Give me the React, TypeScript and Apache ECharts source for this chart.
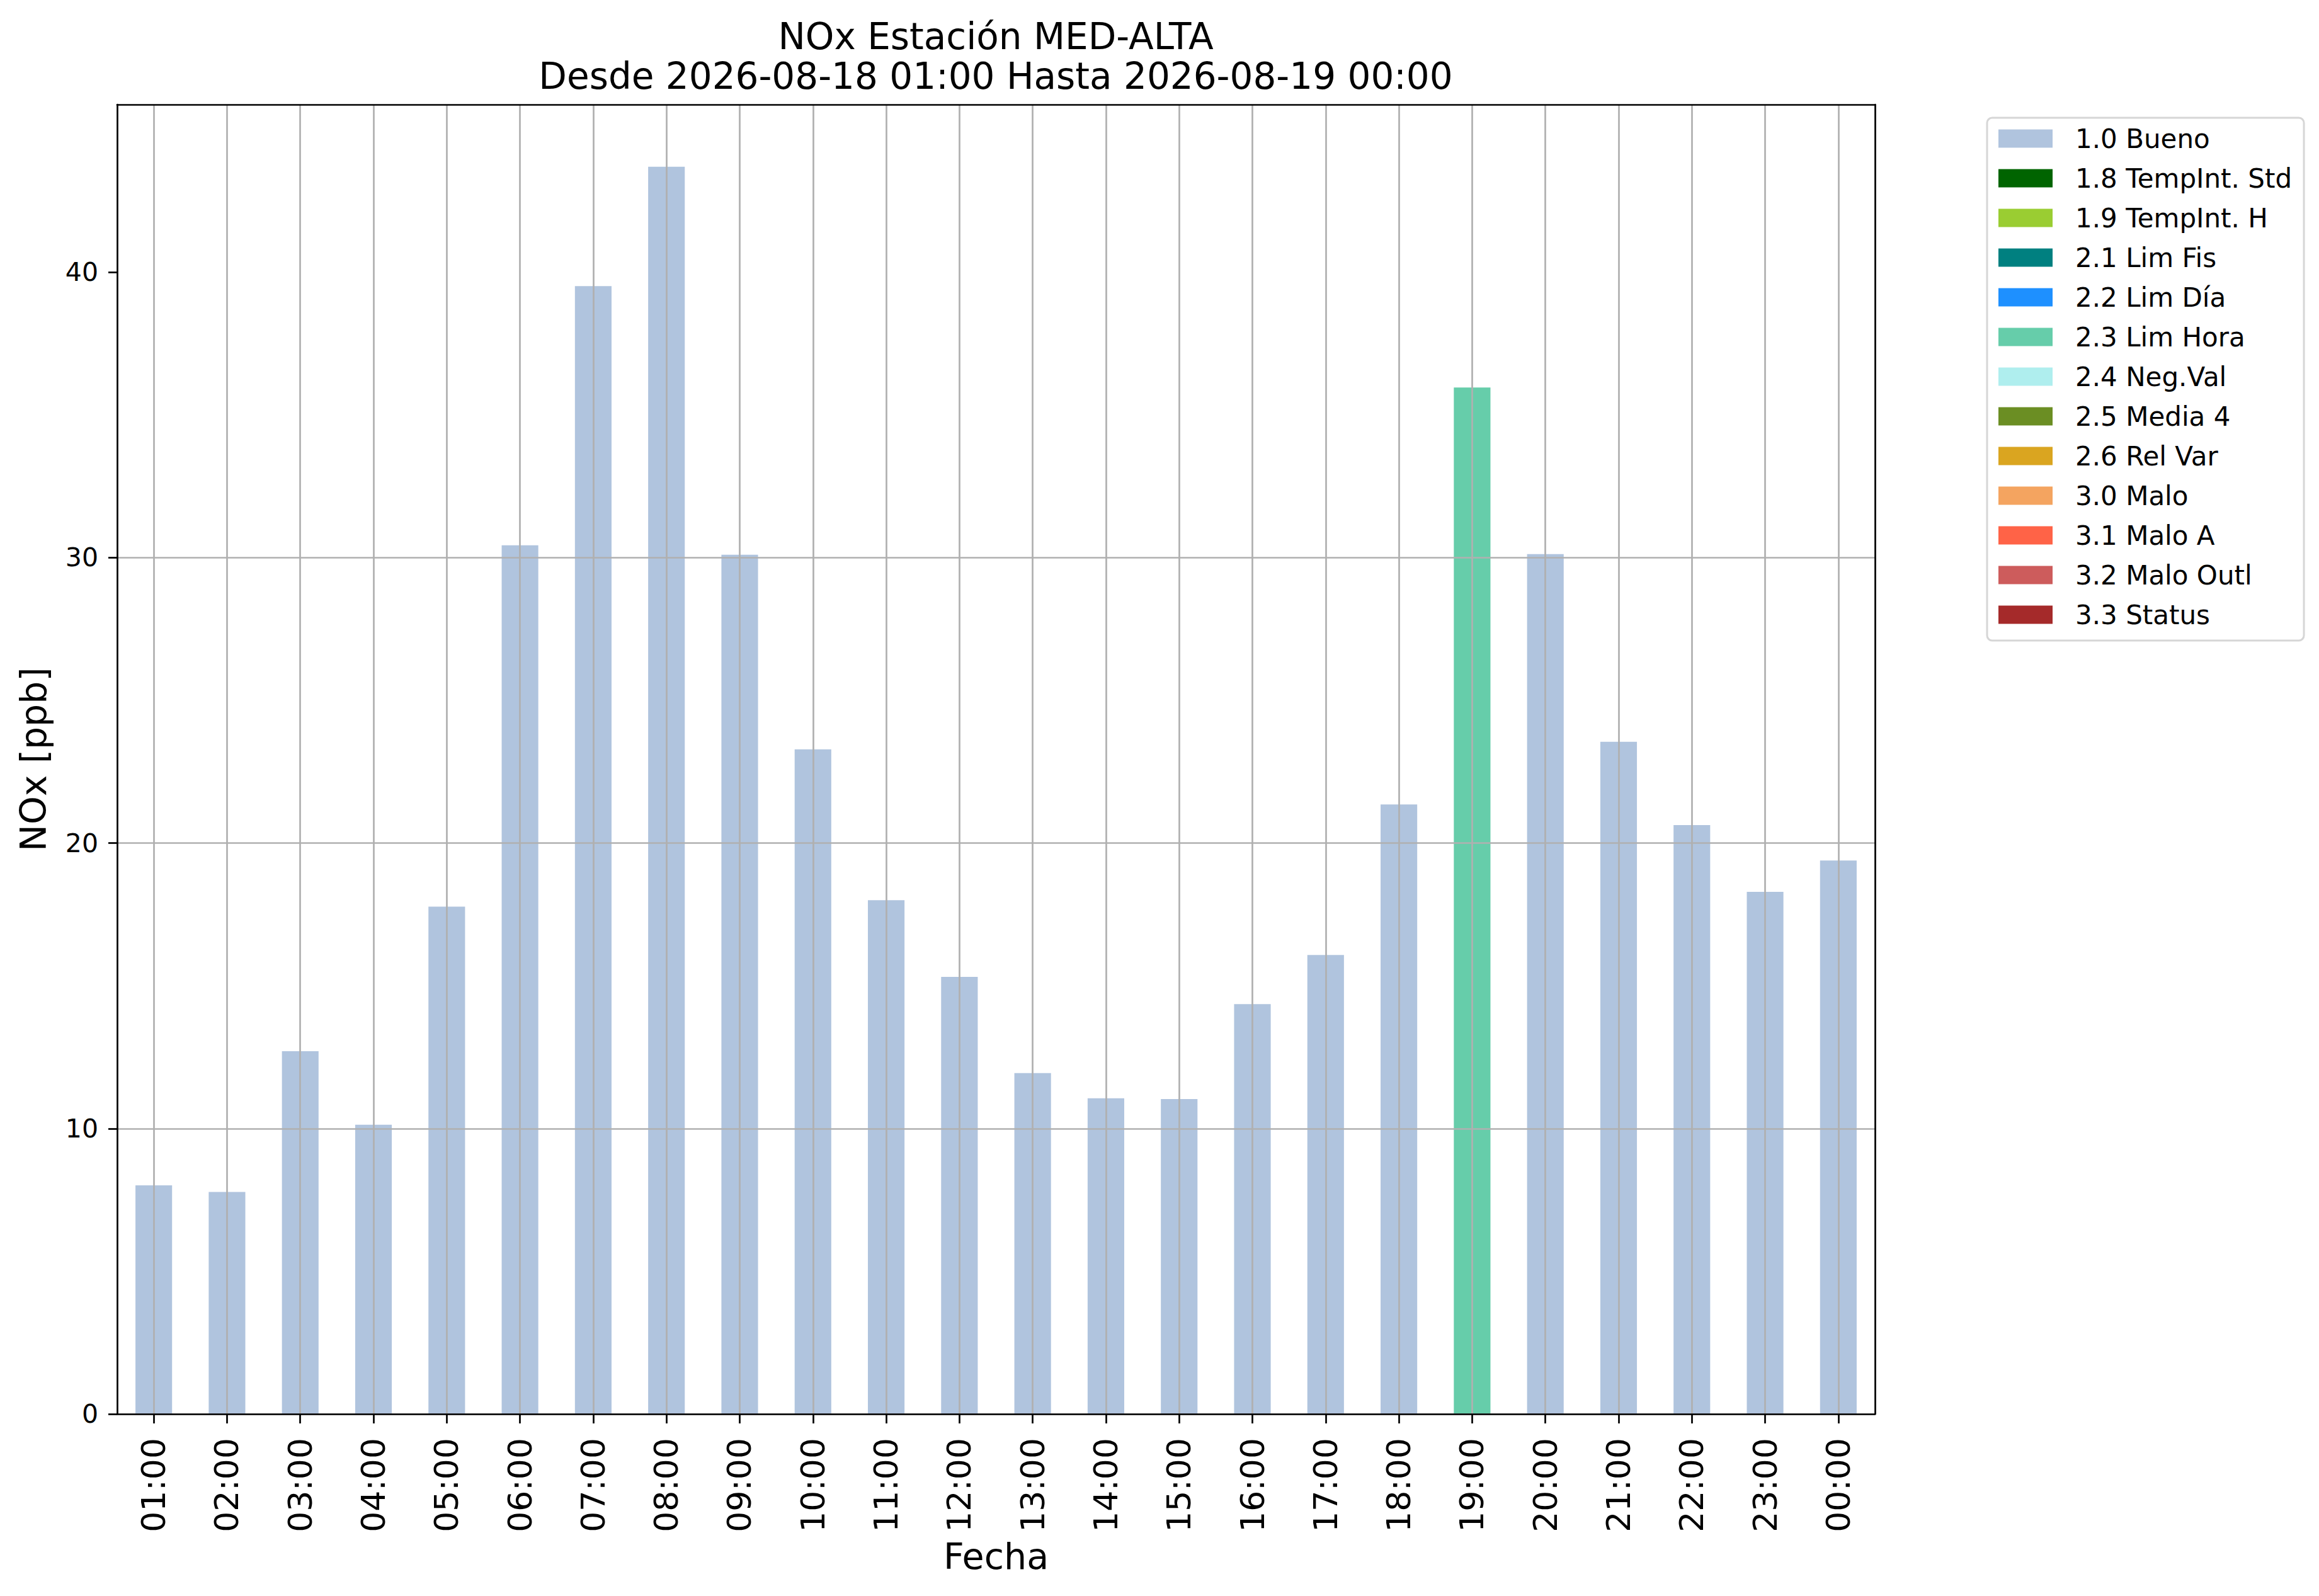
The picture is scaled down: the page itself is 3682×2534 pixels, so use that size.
import React, { useEffect, useRef } from "react";
import * as echarts from "echarts";

const hours = [
  "01:00", "02:00", "03:00", "04:00", "05:00", "06:00", "07:00", "08:00",
  "09:00", "10:00", "11:00", "12:00", "13:00", "14:00", "15:00", "16:00",
  "17:00", "18:00", "19:00", "20:00", "21:00", "22:00", "23:00", "00:00",
];

const noxValues = [
  8.01, 7.78, 12.71, 10.13, 17.77, 30.43, 39.51, 43.69,
  30.1, 23.28, 18.0, 15.31, 11.94, 11.06, 11.03, 14.36,
  16.08, 21.35, 35.96, 30.12, 23.55, 20.63, 18.29, 19.39,
];

const qualityCodes = [
  "1.0", "1.0", "1.0", "1.0", "1.0", "1.0", "1.0", "1.0",
  "1.0", "1.0", "1.0", "1.0", "1.0", "1.0", "1.0", "1.0",
  "1.0", "1.0", "2.3", "1.0", "1.0", "1.0", "1.0", "1.0",
];

const flagCodes = ["1.0", "1.8", "1.9", "2.1", "2.2", "2.3", "2.4", "2.5", "2.6", "3.0", "3.1", "3.2", "3.3"];
const flagNames = [
  "1.0 Bueno", "1.8 TempInt. Std", "1.9 TempInt. H", "2.1 Lim Fis", "2.2 Lim Día",
  "2.3 Lim Hora", "2.4 Neg.Val", "2.5 Media 4", "2.6 Rel Var", "3.0 Malo",
  "3.1 Malo A", "3.2 Malo Outl", "3.3 Status",
];
const flagColors = [
  "#b0c4de", "#006400", "#9acd32", "#008080", "#1e90ff", "#66cdaa", "#afeeee",
  "#6b8e23", "#daa520", "#f4a460", "#ff6347", "#cd5c5c", "#a52a2a",
];

const yTicks = [0, 10, 20, 30, 40];
const yMax = 45.87;

const titleText = "NOx Estación MED-ALTA\nDesde 2026-08-18 01:00 Hasta 2026-08-19 00:00";
const xName = "Fecha";
const yName = "NOx [ppb]";

const FONT = "DejaVu Sans";

export default function App() {
  const ref = useRef<HTMLDivElement>(null);

  useEffect(() => {
    if (!ref.current) return;
    const chart = echarts.init(ref.current, null, { renderer: "svg" });

    const series = flagNames.map((name, i) => ({
      name,
      type: "bar",
      stack: "quality",
      barWidth: "50%",
      z: 1,
      itemStyle: { color: flagColors[i] },
      data: noxValues.map((v, j) => (qualityCodes[j] === flagCodes[i] ? v : null)),
    }));

    const spine = { color: "#000", width: 2.7 };

    chart.setOption({
      animation: false,
      backgroundColor: "#fff",
      title: {
        text: titleText,
        left: 1581,
        top: 26,
        padding: 0,
        textAlign: "center",
        textStyle: {
          fontFamily: FONT,
          fontSize: 58,
          fontWeight: "normal",
          lineHeight: 63,
          color: "#000",
        },
      },
      legend: {
        orient: "vertical",
        left: 3155,
        top: 187,
        padding: [12, 19, 20, 18],
        itemWidth: 86,
        itemHeight: 29,
        itemGap: 21,
        icon: "rect",
        borderColor: "#d6d6d6",
        borderWidth: 3,
        borderRadius: 8,
        backgroundColor: "#fff",
        selectedMode: false,
        textStyle: {
          fontFamily: FONT,
          fontSize: 42,
          color: "#000",
          lineHeight: 29,
          padding: [0, 0, 0, 31],
        },
        data: flagNames,
      },
      grid: {
        left: 186,
        top: 166,
        width: 2791,
        height: 2079,
        containLabel: false,
      },
      xAxis: [
        {
          type: "category",
          data: hours,
          boundaryGap: true,
          z: 5,
          axisLine: { show: true, onZero: false, lineStyle: spine },
          axisTick: { show: true, alignWithLabel: true, interval: 0, length: 15, lineStyle: spine },
          axisLabel: {
            rotate: 90,
            interval: 0,
            margin: 38,
            fontFamily: FONT,
            fontSize: 52,
            color: "#000",
          },
          splitLine: {
            show: true,
            alignWithLabel: true,
            interval: 0,
            lineStyle: { color: "#b0b0b0", width: 2.7 },
          },
          name: xName,
          nameLocation: "middle",
          nameGap: 197,
          nameTextStyle: { fontFamily: FONT, fontSize: 57, color: "#000" },
        },
        {
          type: "category",
          data: hours,
          position: "top",
          z: 6,
          axisLine: { show: true, onZero: false, lineStyle: spine },
          axisTick: { show: false },
          axisLabel: { show: false },
          splitLine: { show: false },
        },
      ],
      yAxis: [
        {
          type: "value",
          min: 0,
          max: yMax,
          interval: 10,
          z: 5,
          axisLine: { show: true, onZero: false, lineStyle: spine },
          axisTick: { show: true, length: 14, lineStyle: spine, customValues: yTicks },
          axisLabel: {
            customValues: yTicks,
            margin: 30,
            fontFamily: FONT,
            fontSize: 41,
            color: "#000",
            formatter: (v: number) => (v % 10 === 0 ? String(v) : ""),
          },
          splitLine: {
            show: true,
            showMaxLine: false,
            lineStyle: { color: "#b0b0b0", width: 2.7 },
          },
          name: yName,
          nameLocation: "middle",
          nameGap: 105,
          nameRotate: 90,
          nameTextStyle: { fontFamily: FONT, fontSize: 57, color: "#000" },
        },
        {
          type: "value",
          min: 0,
          max: yMax,
          position: "right",
          z: 6,
          axisLine: { show: true, onZero: false, lineStyle: spine },
          axisTick: { show: false },
          axisLabel: { show: false },
          splitLine: { show: false },
        },
      ],
      series,
    });

    return () => chart.dispose();
  }, []);

  return (
    <div
      ref={ref}
      style={{ position: "absolute", left: 0, top: 0, width: 3682, height: 2534, background: "#fff" }}
    />
  );
}
